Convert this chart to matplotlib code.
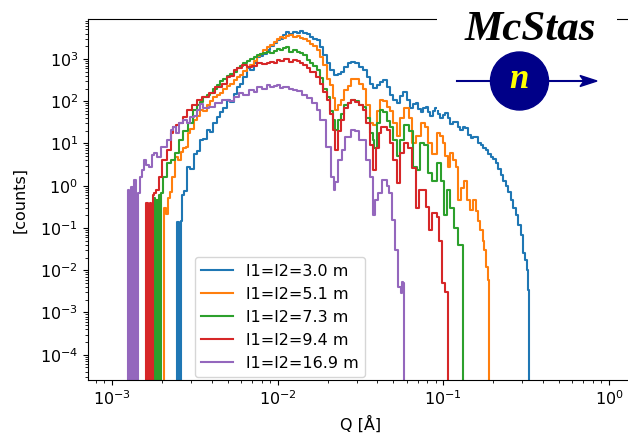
import matplotlib
matplotlib.use("Agg")
import matplotlib.pyplot as plt
from matplotlib.patches import Circle, Polygon

# ---- data (Q in 1/Angstrom, counts) ----
labels = ["l1=l2=3.0 m", "l1=l2=5.1 m", "l1=l2=7.3 m", "l1=l2=9.4 m", "l1=l2=16.9 m"]

q_30 = [0.00245, 0.00250, 0.00256, 0.00263, 0.00268, 0.00276, 0.00290, 0.00304, 0.00317, 0.00335,
        0.00349, 0.00364, 0.00385, 0.00401, 0.00418, 0.00442, 0.00461, 0.00481, 0.00508, 0.00530,
        0.00553, 0.00584, 0.00609, 0.00635, 0.00671, 0.00700, 0.00730, 0.00771, 0.00804, 0.00838,
        0.00886, 0.00924, 0.00970, 0.01018, 0.01061, 0.01107, 0.01138, 0.01220, 0.01272, 0.01345,
        0.01402, 0.01462, 0.01545, 0.01611, 0.01680, 0.01775, 0.01851, 0.01930, 0.02040, 0.02127,
        0.02280, 0.02377, 0.02443, 0.02620, 0.02694, 0.02888, 0.03000, 0.03228, 0.03365, 0.03556,
        0.03708, 0.03870, 0.04090, 0.04261, 0.04443, 0.04700, 0.04896, 0.05104, 0.05395, 0.05626,
        0.05865, 0.06200, 0.06465, 0.06741, 0.06931, 0.07226, 0.07429, 0.07745, 0.07962, 0.08187,
        0.08535, 0.08776, 0.09149, 0.09406, 0.09810, 0.10080, 0.10510, 0.10810, 0.11270, 0.11590,
        0.12080, 0.12420, 0.12950, 0.13310, 0.13880, 0.14400, 0.14880, 0.15400, 0.15950, 0.16500,
        0.17100, 0.17700, 0.18330, 0.19000, 0.19650, 0.20350, 0.21060, 0.21800, 0.22580, 0.23400,
        0.24200, 0.25050, 0.25940, 0.26800, 0.27810, 0.28800, 0.29810, 0.30650, 0.31510, 0.32200,
        0.32850, 0.33400]
c_30 = [0, 0.14, 0, 0.15, 0.6, 0.75, 2.8, 2.5, 5.5, 6.5,
        12, 13, 21, 19, 30, 42, 55, 70, 107, 95,
        150, 217, 260, 380, 600, 560, 800, 1100, 1150, 1350,
        1600, 2000, 2400, 2800, 3000, 3800, 4300, 3900, 4400, 4100,
        4500, 4200, 3900, 3400, 3000, 2800, 1900, 1240, 800, 550,
        420, 440, 480, 650, 800, 850, 800, 650, 550, 380,
        260, 205, 240, 290, 320, 220, 140, 110, 90, 130,
        165, 110, 70, 85, 90, 65, 55, 70, 75, 55,
        45, 60, 68, 50, 40, 48, 52, 40, 29, 33,
        32, 25, 21, 24, 23, 16, 13.5, 14.5, 14, 10,
        9.2, 8, 7, 5.5, 4.8, 4.2, 3.5, 2.5, 1.8, 1.3,
        1.0, 0.7, 0.46, 0.3, 0.2, 0.12, 0.07, 0.025, 0.017, 0.01,
        0.0034, 0]

q_51 = [0.00205, 0.00209, 0.00215, 0.00221, 0.00227, 0.00236, 0.00247, 0.00256, 0.00264, 0.00276,
        0.00285, 0.00290, 0.00304, 0.00317, 0.00335, 0.00349, 0.00364, 0.00385, 0.00401, 0.00418,
        0.00442, 0.00461, 0.00481, 0.00508, 0.00530, 0.00553, 0.00584, 0.00609, 0.00635, 0.00671,
        0.00700, 0.00730, 0.00771, 0.00804, 0.00838, 0.00886, 0.00924, 0.00970, 0.01018, 0.01061,
        0.01107, 0.01138, 0.01220, 0.01272, 0.01345, 0.01402, 0.01462, 0.01545, 0.01611, 0.01680,
        0.01775, 0.01851, 0.01930, 0.02040, 0.02127, 0.02187, 0.02280, 0.02377, 0.02443, 0.02620,
        0.02694, 0.02888, 0.03000, 0.03228, 0.03318, 0.03556, 0.03708, 0.03866, 0.04088, 0.04261,
        0.04443, 0.04697, 0.04896, 0.05104, 0.05395, 0.05626, 0.06030, 0.06300, 0.06650, 0.07000,
        0.07590, 0.07960, 0.08300, 0.08900, 0.09400, 0.09800, 0.10080, 0.10500, 0.10810, 0.11270,
        0.11700, 0.12080, 0.12600, 0.13000, 0.13500, 0.14200, 0.14880, 0.15500, 0.16000, 0.16400,
        0.17100, 0.17580, 0.17830, 0.18330, 0.18850, 0.19110]
c_51 = [0, 0.3, 0.22, 0.5, 0.7, 1.6, 4.7, 4.0, 6.3, 8,
        8.3, 18, 22, 36, 45, 62, 58, 80, 100, 126,
        140, 160, 190, 230, 250, 320, 380, 420, 520, 650,
        720, 900, 1200, 1350, 1600, 1900, 2200, 2500, 3000, 3300,
        3100, 3500, 3700, 3300, 3500, 3100, 3000, 2600, 2300, 2000,
        1630, 1100, 720, 330, 240, 120, 62, 80, 107, 180,
        230, 340, 330, 250, 200, 80, 30, 28, 60, 110,
        100, 75, 60, 30, 15, 40, 69, 40, 10, 15,
        30, 25, 10, 5.5, 18, 15, 10, 5, 2.8, 6,
        4, 2.8, 0.46, 0.9, 1.3, 0.46, 0.27, 0.46, 0.25, 0.15,
        0.09, 0.05, 0.03, 0.012, 0.006, 0]

q_73 = [0.00178, 0.00181, 0.00184, 0.00187, 0.00190, 0.00193, 0.00196, 0.00200, 0.00206, 0.00221,
        0.00230, 0.00247, 0.00264, 0.00276, 0.00296, 0.00317, 0.00335, 0.00349, 0.00364, 0.00385,
        0.00401, 0.00418, 0.00442, 0.00461, 0.00481, 0.00508, 0.00530, 0.00553, 0.00584, 0.00609,
        0.00635, 0.00671, 0.00700, 0.00730, 0.00771, 0.00804, 0.00838, 0.00886, 0.00924, 0.00970,
        0.01018, 0.01061, 0.01107, 0.01138, 0.01220, 0.01272, 0.01345, 0.01402, 0.01462, 0.01545,
        0.01611, 0.01680, 0.01775, 0.01851, 0.01930, 0.02040, 0.02127, 0.02187, 0.02280, 0.02377,
        0.02443, 0.02620, 0.02694, 0.02888, 0.03000, 0.03228, 0.03318, 0.03556, 0.03708, 0.03813,
        0.03870, 0.04090, 0.04261, 0.04443, 0.04697, 0.04896, 0.05104, 0.05395, 0.05626, 0.06030,
        0.06470, 0.06740, 0.07130, 0.07430, 0.07960, 0.08300, 0.08900, 0.09400, 0.10080, 0.10220,
        0.10810, 0.11270, 0.12080, 0.12420, 0.12950, 0.13200]
c_73 = [0, 0.5, 0, 0.45, 0, 0.6, 0, 0.67, 1.6, 3.5,
        4.1, 6, 12, 20, 30, 62, 80, 95, 126, 140,
        160, 190, 240, 300, 330, 400, 450, 500, 600, 700,
        800, 900, 1000, 1100, 1250, 1300, 1390, 1460, 1400, 1550,
        1700, 1630, 1800, 1900, 1500, 1630, 1500, 1390, 1250, 950,
        800, 700, 550, 350, 200, 126, 60, 36, 21, 36,
        50, 81, 91, 107, 100, 80, 73, 40, 18, 12,
        8, 30, 62, 55, 35, 25, 12, 5, 12, 27,
        20, 2.8, 2.3, 10, 9, 2.0, 1.3, 3.5, 1.3, 0.2,
        0.8, 0.3, 0.1, 0.04, 0.04, 0]

q_94 = [0.00160, 0.00163, 0.00167, 0.00170, 0.00174, 0.00178, 0.00182, 0.00187, 0.00195, 0.00206,
        0.00221, 0.00230, 0.00237, 0.00250, 0.00257, 0.00276, 0.00292, 0.00317, 0.00335, 0.00364,
        0.00401, 0.00442, 0.00481, 0.00508, 0.00530, 0.00553, 0.00584, 0.00635, 0.00671, 0.00730,
        0.00771, 0.00838, 0.00886, 0.00924, 0.00970, 0.01018, 0.01061, 0.01138, 0.01220, 0.01272,
        0.01345, 0.01402, 0.01462, 0.01545, 0.01611, 0.01775, 0.01851, 0.01930, 0.02040, 0.02127,
        0.02187, 0.02280, 0.02377, 0.02443, 0.02620, 0.02694, 0.02888, 0.03000, 0.03228, 0.03318,
        0.03556, 0.03708, 0.03866, 0.04000, 0.04145, 0.04261, 0.04443, 0.04697, 0.04896, 0.05104,
        0.05395, 0.05626, 0.06030, 0.06230, 0.06740, 0.06930, 0.07430, 0.08190, 0.08300, 0.08900,
        0.09400, 0.09540, 0.10080, 0.10510, 0.10700]
c_94 = [0, 0.39, 0, 0.4, 0, 0.6, 0.67, 0.8, 1.6, 4.1,
        7, 17.7, 25, 28, 31, 42, 62, 80, 107, 126,
        157, 217, 260, 375, 400, 549, 600, 720, 647, 700,
        804, 750, 804, 850, 800, 947, 900, 1000, 850, 950,
        900, 800, 720, 600, 500, 375, 250, 170, 107, 50,
        21, 7, 20, 36, 70, 91, 107, 95, 81, 62,
        30, 9, 2.4, 8, 18, 25, 24, 21, 10, 4.1,
        1.16, 6, 10.3, 8, 2.6, 0.3, 0.8, 0.31, 0.09, 0.23,
        0.18, 0.05, 0.005, 0.003, 0]

q_169 = [0.00123, 0.00126, 0.00129, 0.00132, 0.00135, 0.00138, 0.00142, 0.00146, 0.00150, 0.00155,
         0.00158, 0.00163, 0.00170, 0.00178, 0.00182, 0.00190, 0.00206, 0.00221, 0.00230, 0.00240,
         0.00250, 0.00260, 0.00276, 0.00290, 0.00304, 0.00317, 0.00335, 0.00349, 0.00364, 0.00401,
         0.00442, 0.00481, 0.00530, 0.00553, 0.00609, 0.00635, 0.00700, 0.00730, 0.00771, 0.00838,
         0.00886, 0.00924, 0.00970, 0.01018, 0.01061, 0.01107, 0.01220, 0.01272, 0.01345, 0.01462,
         0.01545, 0.01680, 0.01775, 0.01851, 0.02040, 0.02187, 0.02217, 0.02250, 0.02377, 0.02500,
         0.02620, 0.02888, 0.03000, 0.03228, 0.03556, 0.03708, 0.03813, 0.03920, 0.04145, 0.04443,
         0.04650, 0.04762, 0.05034, 0.05248, 0.05470, 0.05570, 0.05626, 0.05783, 0.05850]
c_169 = [0, 0.79, 0, 0.93, 0, 1.37, 0, 0.67, 1.6, 2.4,
         4.1, 3.1, 2.8, 5.3, 6, 4.8, 8.3, 12, 21, 25,
         18, 31, 36, 30, 42, 45, 62, 85, 70, 73,
         91, 107, 100, 126, 157, 140, 185, 170, 217, 200,
         242, 220, 230, 242, 210, 217, 200, 185, 175, 141,
         120, 91, 62, 36, 8.3, 1.6, 0.79, 1.2, 4.1, 7,
         14, 21, 20, 12, 4.1, 1.6, 0.2, 0.45, 0.67, 1.37,
         1.0, 0.67, 0.154, 0.03, 0.004, 0.0029, 0.0052, 0.005, 0]

series = [(q_30, c_30), (q_51, c_51), (q_73, c_73), (q_94, c_94), (q_169, c_169)]

plt.rcParams["font.size"] = 11.5

fig = plt.figure(figsize=(6.28, 4.37), dpi=100)
ax = fig.add_axes([0.1401, 0.1304, 0.8694, 0.8261])

for (q, c), lab in zip(series, labels):
    ax.step(q, c, where="mid", lw=1.5, label=lab)

ax.set_xscale("log")
ax.set_yscale("log")
ax.set_xlim(10 ** -3.145, 10 ** 0.151)
ax.set_ylim(10 ** -4.599, 10 ** 3.947)
ax.spines["right"].set_visible(False)
ax.set_xlabel("Q [Å]", labelpad=5)
ax.set_ylabel("[counts]", labelpad=9)
ax.legend(loc="lower left", bbox_to_anchor=(0.196, 0.0083), borderaxespad=0)

# McStas logo, drawn in its own pixel-unit box over the top right corner
lax = fig.add_axes([437 / 628, (437 - 110) / 437, 180 / 628, 110 / 437])
lax.set_xlim(0, 180)
lax.set_ylim(110, 0)
lax.set_xticks([])
lax.set_yticks([])
for s in lax.spines.values():
    s.set_visible(False)
lax.set_facecolor("white")
navy = "#000088"
lax.text(93.5, 40, "McStas", ha="center", va="baseline", fontsize=31,
         family="Liberation Serif", weight="bold", style="italic", color="black")
lax.plot([20, 146], [81, 81], color=navy, lw=1.5, zorder=2)
lax.add_patch(Polygon([(143, 75.5), (160, 81), (143, 86.5), (147, 81)],
                      closed=True, color=navy, zorder=2))
lax.add_patch(Circle((82.5, 81), 29, color=navy, zorder=3, clip_on=False))
lax.text(82, 88, "n", ha="center", va="baseline", fontsize=25, color="#FFFF00",
         family="Liberation Serif", weight="bold", style="italic", zorder=4)

fig.savefig("out.png", dpi=100)
